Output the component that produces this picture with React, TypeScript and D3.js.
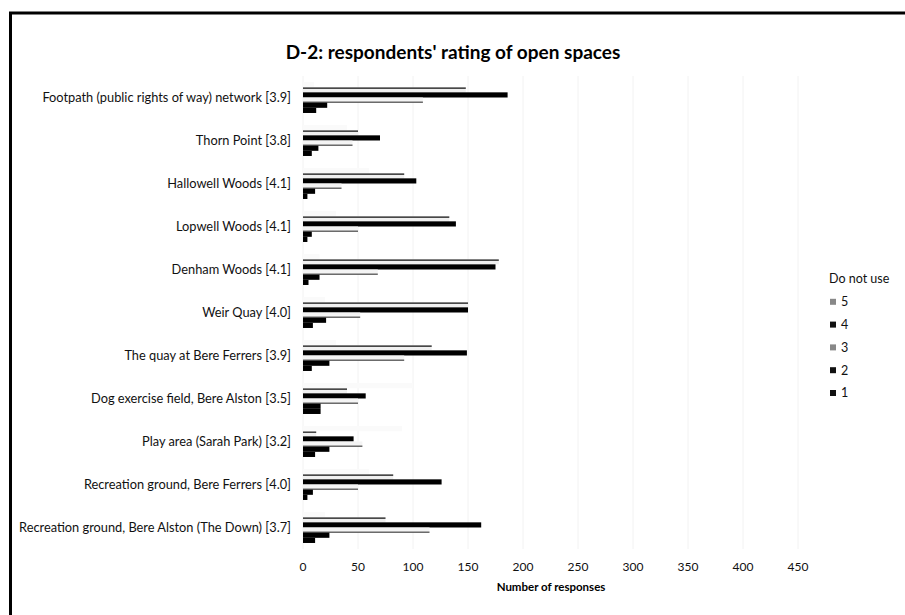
import React from 'react';
import * as d3 from 'd3';

const categories = [
    'Footpath (public rights of way) network [3.9]',
    'Thorn Point [3.8]',
    'Hallowell Woods [4.1]',
    'Lopwell Woods [4.1]',
    'Denham Woods [4.1]',
    'Weir Quay [4.0]',
    'The quay at Bere Ferrers [3.9]',
    'Dog exercise field, Bere Alston [3.5]',
    'Play area (Sarah Park) [3.2]',
    'Recreation ground, Bere Ferrers [4.0]',
    'Recreation ground, Bere Alston (The Down) [3.7]',
];

const seriesNames = ['Do not use', '5', '4', '3', '2', '1'];

// values ("Do not use" is almost invisible there, so estimated)
const doNotUse = [10, 40, 60, 30, 15, 20, 30, 100, 90, 60, 20];
const five = [148, 50, 92, 133, 178, 150, 117, 40, 12, 82, 75];
const four = [186, 70, 103, 139, 175, 150, 149, 57, 46, 126, 162];
const three = [109, 45, 35, 50, 68, 52, 92, 50, 54, 50, 115];
const two = [22, 14, 11, 8, 15, 21, 24, 16, 24, 9, 24];
const one = [12, 8, 4, 4, 5, 9, 8, 16, 11, 4, 11];

const xTicks = [0, 50, 100, 150, 200, 250, 300, 350, 400, 450];

const seriesValues: Record<string, number[]> = {
    'Do not use': doNotUse,
    '5': five,
    '4': four,
    '3': three,
    '2': two,
    '1': one,
};

const fills: Record<string, string> = {
    'Do not use': '#fafafa',
    '5': '#f0f0f0',
    '4': '#000000',
    '3': '#f4f4f4',
    '2': '#000000',
    '1': '#000000',
};

const FONT = 'Lato, "Liberation Sans", sans-serif';

const App: React.FC = () => {
    const width = 905;
    const height = 615;

    const x = d3.scaleLinear().domain([0, 450]).range([303, 798]);
    const y = d3
        .scaleBand<string>()
        .domain(categories)
        .range([76, 549])
        .paddingInner(0.28)
        .paddingOuter(0.14);
    const ySub = d3
        .scaleBand<string>()
        .domain(seriesNames)
        .range([0, y.bandwidth()]);

    const legendY = d3
        .scalePoint<string>()
        .domain(seriesNames)
        .range([279, 393]);

    return (
        <svg
            width={width}
            height={height}
            style={{ position: 'absolute', left: 0, top: 0, background: '#fff' }}
            fontFamily={FONT}
        >
            <rect x={0} y={0} width={width} height={height} fill="#fff" />
            {/* chart frame */}
            <rect x={10.5} y={13} width={1000} height={700} fill="none" stroke="#000" strokeWidth={3} />

            <text x={453} y={59} textAnchor="middle" fontSize={19} fontWeight="bold" fill="#000">
                D-2: respondents' rating of open spaces
            </text>

            {/* gridlines */}
            {xTicks.map((t) => (
                <line key={'g' + t} x1={x(t)} x2={x(t)} y1={76} y2={549} stroke="#f2f2f2" strokeWidth={1} />
            ))}

            {/* bars */}
            {categories.map((c, i) => (
                <g key={c} transform={`translate(0,${y(c)})`}>
                    {seriesNames.map((s) => {
                        const v = seriesValues[s][i];
                        const y0 = ySub(s) as number;
                        const h = ySub.bandwidth();
                        return (
                            <g key={s}>
                                <rect x={x(0)} y={y0} width={x(v) - x(0)} height={h} fill={fills[s]} />
                                {s === '5' && (
                                    <line x1={x(0)} x2={x(v)} y1={y0 + 1} y2={y0 + 1} stroke="#111" strokeWidth={1.2} />
                                )}
                                {s === '3' && (
                                    <line x1={x(0)} x2={x(v)} y1={y0 + h - 0.5} y2={y0 + h - 0.5} stroke="#222" strokeWidth={1} />
                                )}
                            </g>
                        );
                    })}
                    <text
                        x={291}
                        y={y.bandwidth() / 2}
                        dy="0.35em"
                        textAnchor="end"
                        fontSize={12.8}
                        fill="#111"
                    >
                        {c}
                    </text>
                </g>
            ))}

            {/* x axis ticks */}
            {xTicks.map((t) => (
                <text key={'t' + t} x={x(t)} y={571} textAnchor="middle" fontSize={12} fill="#111">
                    {t}
                </text>
            ))}
            <text x={551} y={591} textAnchor="middle" fontSize={11.5} fontWeight="bold" fill="#000">
                Number of responses
            </text>

            {/* legend */}
            {seriesNames.map((s) => (
                <g key={'l' + s} transform={`translate(830,${legendY(s)})`}>
                    <rect x={0} y={-3} width={6} height={6} fill={s === 'Do not use' ? 'none' : fills[s] === '#000000' ? '#111' : '#888'} />
                    <text x={s === 'Do not use' ? -1 : 11} y={0} dy="0.35em" fontSize={12.5} fill="#111">
                        {s}
                    </text>
                </g>
            ))}
        </svg>
    );
};

export default App;
